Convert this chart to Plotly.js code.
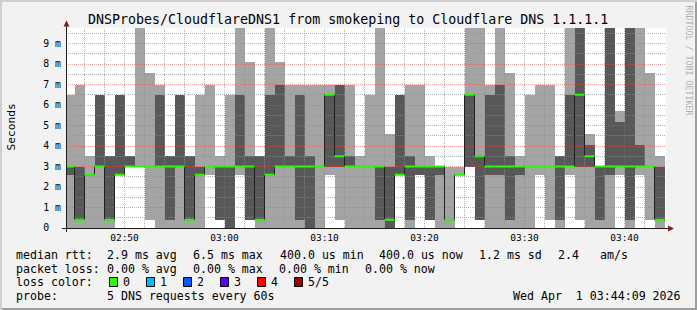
<!DOCTYPE html>
<html><head><meta charset="utf-8">
<script src="https://cdn.plot.ly/plotly-3.0.1.min.js"></script>
<style>html,body{margin:0;padding:0;background:#f2f2f2;}#chart{width:697px;height:310px;}</style>
</head><body><div id="chart"></div>
<script>
// ---- data (ms), one value per 60 s step, 02:44 -> 03:44 ----
const firstStep = [2026, 3, 1, 2, 44, 0];
const stepSeconds = 60;
const pingMin = [0,0,0,0,0,2.6,3.0,3.0,0.4,0, 0,0,0,0,2.6,0.4,0,2.6,0.4,0, 0,0,0,0,0,0,2.6,0.4,0,0, 0,0,0,2.6,0,2.6,0.4,0,0,2.6, 3.0,0.4,0,0,0,0,0,2.6,0.4,0, 2.6,0.4,0,0,0,2.6,0,2.6,0.4,0];
const ping2   = [2.6,0.4,2.6,3.0,0.4,2.6,3.0,3.0,3.0,3.0, 0.4,3.0,0.4,2.6,3.0,0.4,0,3.0,0.4,0.4, 2.6,3.0,3.0,0.4,0,3.0,3.0,3.0,3.0,3.0, 3.0,0.4,0,2.6,0.4,2.6,0.4,2.6,0.4,2.6, 3.0,0.4,2.6,2.6,0.4,2.6,3.0,3.0,3.0,0.4, 3.0,3.0,3.0,0.4,2.6,3.0,0.4,3.0,3.0,0.4];
const median  = [3.0,0.4,2.6,3.0,0.4,2.6,3.0,3.0,3.0,3.0, 3.0,3.0,0.4,2.6,3.0,3.0,3.0,3.0,3.0,0.4, 2.6,3.0,3.0,3.0,3.0,3.0,6.5,3.5,3.0,3.0, 3.0,3.0,0.4,2.6,3.0,3.0,3.0,3.0,0.4,2.6, 6.5,3.5,3.0,3.0,3.0,3.0,3.0,3.0,3.0,3.0, 3.0,6.5,3.5,3.0,3.0,3.0,3.0,3.0,3.0,0.4];
const ping4   = [3.0,3.0,2.6,6.5,3.5,6.5,3.5,3.0,3.0,6.5, 3.5,6.5,3.5,3.0,3.0,3.0,3.0,6.5,3.5,3.5, 6.5,7.0,3.5,6.5,3.5,3.0,6.5,7.0,3.5,3.0, 3.0,3.0,3.0,6.5,3.5,3.0,3.0,3.0,0.4,2.6, 6.5,3.5,6.5,7.0,3.5,3.0,3.0,3.0,3.0,3.5, 6.5,10,4.05,3.0,10,5.15,10,4.05,3.0,3.0];
const pingMax = [6.5,7.0,3.5,6.5,3.5,6.5,3.5,10,7.55,7.0, 3.5,6.5,3.5,6.5,7.0,3.5,6.5,10,8.1,3.5, 10,8.1,7.0,7.0,7.0,7.0,7.0,7.0,7.0,3.5, 6.5,10,4.6,6.5,7.0,7.0,3.5,3.0,3.0,3.0, 10,10,7.0,10,7.55,3.5,6.5,7.0,7.0,3.5, 10,10,4.6,3.0,10,5.7,10,10,7.55,3.5];
const yTickValues = [0,1,2,3,4,5,6,7,8,9];
const yTickLabels = ['0\u00a0\u00a0','1 m','2 m','3 m','4 m','5 m','6 m','7 m','8 m','9 m'];
const titleText = 'DNSProbes/CloudflareDNS1 from smokeping to Cloudflare DNS 1.1.1.1';
const rttLegend = ['median rtt:','2.9 ms avg','6.5 ms max','400.0 us min','400.0 us now','1.2 ms sd','2.4','am/s'];
const lossLegend = ['packet loss:','0.00 % avg','0.00 % max','0.00 % min','0.00 % now'];
const lossLabels = ['0','1','2','3','4','5/5'];
const lossColors = ['#26ff00','#00b8ff','#0059ff','#5e00ff','#ff0000','#a00000'];
const probeLegend = ['probe:','5 DNS requests every 60s'];
const stampText = 'Wed Apr  1 03:44:09 2026';

// ---- build ----
const T0 = Date.UTC(...firstStep);
const STEP = stepSeconds*1000;
const ts = ms => new Date(ms).toISOString().replace('T',' ').slice(0,19);
const n = median.length;
const YMAX = 200/20.5;
const starts = median.map((_,i)=>T0+i*STEP);
const centers = starts.map(s=>ts(s+STEP/2));
const rangeStart = ts(T0+9000), rangeEnd = ts(T0+3600000+9000);

const light = {type:'bar', x:centers, base:pingMin, y:pingMax.map((v,i)=>v-pingMin[i]), width:STEP,
  marker:{color:'#a4a4a4', line:{width:0}}, hoverinfo:'skip'};
const dark = {type:'bar', x:centers, base:ping2, y:ping4.map((v,i)=>v-ping2[i]), width:STEP,
  marker:{color:'#585858', line:{width:0}}, hoverinfo:'skip'};

// grid as line traces (drawn over the smoke, under the median)
const MGRID='rgba(222,79,79,0.55)', GRID='rgba(143,143,143,0.7)';
const gMinX=[],gMinY=[],gMajX=[],gMajY=[];
for (let m=2; m<60; m+=2){
  const t = ts(T0 + m*60000);
  const major = ((44+m)%10)===0;
  (major?gMajX:gMinX).push(t,t,null);
  (major?gMajY:gMinY).push(0,YMAX,null);
}
for (let k=1; k<=19; k++){
  const py = Math.floor(228-20.5*k*0.5)+0.5;
  const v = (228-py)/20.5;
  const major = k%2===0;
  (major?gMajX:gMinX).push(rangeStart,rangeEnd,null);
  (major?gMajY:gMinY).push(v,v,null);
}
const gridMinor = {type:'scatter', mode:'lines', x:gMinX, y:gMinY, line:{color:GRID, width:1, dash:'1px,1px'}, hoverinfo:'skip'};
const gridMajor = {type:'scatter', mode:'lines', x:gMajX, y:gMajY, line:{color:MGRID, width:1, dash:'1px,1px'}, hoverinfo:'skip'};

const stepX = starts.map(ts).concat([ts(T0+n*STEP)]);
const stepY = median.concat([median[n-1]]);
const medLine = {type:'scatter', mode:'lines', x:stepX, y:stepY, line:{shape:'hv', color:'#202020', width:1}, hoverinfo:'skip'};
const gx=[], gy=[];
median.forEach((m,i)=>{gx.push(ts(starts[i]), ts(starts[i]+STEP), null); gy.push(m,m,null);});
const green = {type:'scatter', mode:'lines', x:gx, y:gy, line:{color:'#26ff00', width:2}, connectgaps:false, hoverinfo:'skip'};

const PX = px => (px-66)/600, PY = py => (228-py)/200;
const shapes = [];
// axes
shapes.push({type:'line', xref:'paper', yref:'paper', x0:PX(62), x1:PX(668), y0:PY(228.5), y1:PY(228.5), layer:'above', line:{color:'#1f1f1f', width:1}});
shapes.push({type:'line', xref:'paper', yref:'paper', x0:PX(66.5), x1:PX(66.5), y0:PY(232), y1:PY(25), layer:'above', line:{color:'#1f1f1f', width:1}});
shapes.push({type:'path', xref:'paper', yref:'paper', layer:'above', fillcolor:'#801f1f', line:{width:0},
  path:`M${PX(66.5)},${PY(20.5)} L${PX(63.5)},${PY(26.5)} L${PX(69.5)},${PY(26.5)} Z`});
shapes.push({type:'path', xref:'paper', yref:'paper', layer:'above', fillcolor:'#801f1f', line:{width:0},
  path:`M${PX(674)},${PY(228.5)} L${PX(668)},${PY(225.5)} L${PX(668)},${PY(231.5)} Z`});
// frame
const rect=(x0,y0,x1,y1,c)=>({type:'rect', xref:'paper', yref:'paper', x0:PX(x0), x1:PX(x1), y0:PY(y0), y1:PY(y1), fillcolor:c, line:{width:0}, layer:'above'});
shapes.push(rect(0,0,697,2,'#cfcfcf'), rect(0,0,2,310,'#cfcfcf'), rect(2,308,697,310,'#9e9e9e'), rect(695,2,697,310,'#9e9e9e'));
// loss colour boxes
const boxX = [109,146,183,220,257,294];
lossColors.forEach((c,i)=>{
  shapes.push({type:'rect', xref:'paper', yref:'paper', x0:PX(boxX[i]+0.5), x1:PX(boxX[i]+8.5), y0:PY(277.5), y1:PY(286.5),
    fillcolor:c, line:{color:'#000', width:1}, layer:'above'});
});

const MONO='DejaVu Sans Mono';
const ann = [];
const txt=(s,px,py,opt={})=>ann.push(Object.assign({text:s, xref:'paper', yref:'paper', x:PX(px), y:PY(py),
  xanchor:'left', yanchor:'middle', showarrow:false, borderpad:0, borderwidth:0,
  font:{family:MONO, size:11.6, color:'#000'}}, opt));
txt(titleText, 347.5, 19.4, {xanchor:'center', font:{family:MONO, size:13.3, color:'#000'}});
txt('Seconds', 10.5, 127, {xanchor:'center', textangle:-90, font:{family:MONO, size:11.2, color:'#000'}});
txt('RRDTOOL / TOBI OETIKER', 688.5, 60, {xanchor:'center', textangle:90, font:{family:MONO, size:8.3, color:'#b0b0b0'}});
const l1x=[16,107,193,280,379,479,558,600];
rttLegend.forEach((s,i)=>txt(s,l1x[i],255));
const l2x=[16,107,193,279,365];
lossLegend.forEach((s,i)=>txt(s,l2x[i],268.5));
txt('loss color:',16,282);
const l3x=[123,160,197,234,271,308];
lossLabels.forEach((s,i)=>txt(s,l3x[i],282));
txt(probeLegend[0],16,296); txt(probeLegend[1],107,296);
txt(stampText,681,296,{xanchor:'right'});

const layout = {
  width:697, height:310, margin:{l:66, r:31, t:28, b:82, pad:0},
  paper_bgcolor:'#f2f2f2', plot_bgcolor:'#ffffff',
  showlegend:false, hovermode:false, barmode:'overlay', bargap:0,
  xaxis:{type:'date', range:[rangeStart, rangeEnd], showgrid:false, zeroline:false, showline:false,
    tickformat:'%H:%M', tick0:'2026-04-01 02:50:00', dtick:600000, ticks:'', ticklabelstandoff:2,
    tickfont:{family:MONO, size:9.5, color:'#000'}, fixedrange:true},
  yaxis:{range:[0, YMAX], showgrid:false, zeroline:false, showline:false, tickmode:'array',
    tickvals:yTickValues, ticktext:yTickLabels, ticks:'', ticklabelstandoff:4,
    tickfont:{family:MONO, size:9.8, color:'#000'}, fixedrange:true},
  shapes:shapes, annotations:ann
};
Plotly.newPlot('chart', [light, dark, gridMinor, gridMajor, medLine, green], layout, {staticPlot:true, displayModeBar:false});
</script></body></html>
